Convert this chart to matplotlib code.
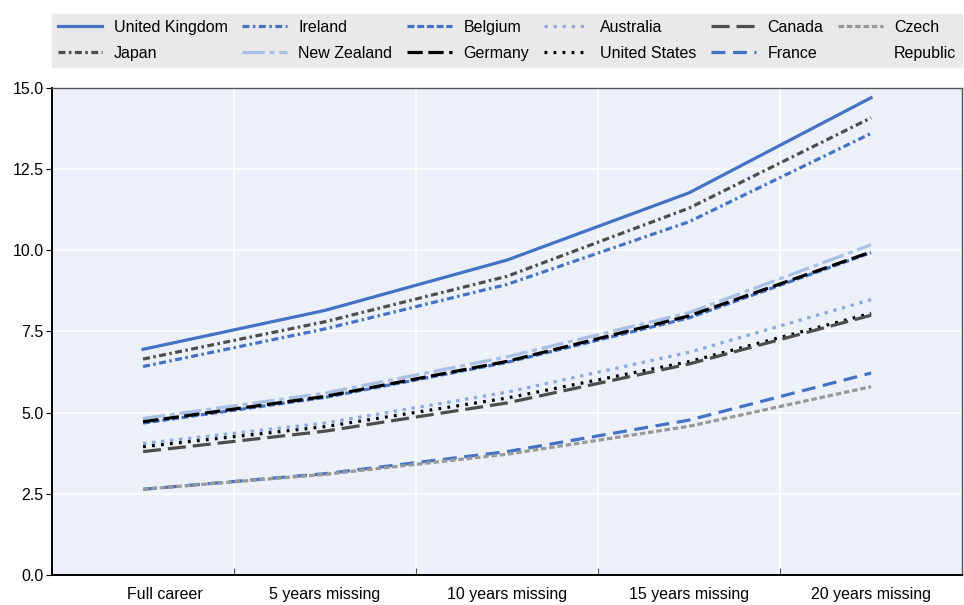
import matplotlib
matplotlib.use("Agg")
import matplotlib.pyplot as plt
from matplotlib.lines import Line2D

# ----------------------------
# Data
# ----------------------------

categories = ["Full career", "5 years missing", "10 years missing",
              "15 years missing", "20 years missing"]

united_kingdom = [6.95, 8.15, 9.7, 11.77, 14.7]
japan = [6.65, 7.8, 9.2, 11.3, 14.08]
ireland = [6.42, 7.58, 8.95, 10.88, 13.6]
new_zealand = [4.82, 5.6, 6.72, 8.08, 10.17]
belgium = [4.68, 5.47, 6.55, 7.92, 9.93]
germany = [4.72, 5.5, 6.58, 7.98, 9.95]
australia = [4.05, 4.68, 5.63, 6.86, 8.48]
united_states = [3.95, 4.57, 5.45, 6.57, 8.06]
canada = [3.8, 4.43, 5.3, 6.5, 8.0]
france = [2.64, 3.12, 3.8, 4.77, 6.22]
czech_republic = [2.64, 3.1, 3.72, 4.58, 5.8]

yticks = [0.0, 2.5, 5.0, 7.5, 10.0, 12.5, 15.0]

# ----------------------------
# Style
# ----------------------------

plt.rcParams["font.family"] = ["Liberation Sans", "DejaVu Sans"]
plt.rcParams["font.size"] = 11.5
plt.rcParams["lines.scale_dashes"] = False

blue = "#4472c4"
light_blue = "#8eaadc"
pale_blue = "#a9bfe3"
dark_grey = "#4d4d4d"
grey = "#999999"

# (label, values, color, dashes) in legend column order
series = [
    ("United Kingdom", united_kingdom, blue, None),
    ("Japan", japan, dark_grey, (5, 2.5, 1.8, 2.5)),
    ("Ireland", ireland, blue, (5, 2.5, 1.8, 2.5)),
    ("New Zealand", new_zealand, pale_blue, (16, 3.5, 3.5, 3.5)),
    ("Belgium", belgium, blue, (5, 2)),
    ("Germany", germany, "black", (11, 4)),
    ("Australia", australia, light_blue, (2.5, 4)),
    ("United States", united_states, "black", (2, 4.5)),
    ("Canada", canada, dark_grey, (13, 5)),
    ("France", france, blue, (10, 5.5)),
    ("Czech", czech_republic, grey, (4, 2)),
]

# ----------------------------
# Plot
# ----------------------------

fig = plt.figure(figsize=(9.64, 6.05), dpi=100)
ax = fig.add_axes([0.054, 0.0496, 0.944, 0.805])
ax.set_facecolor("#ecf0f8")

x = list(range(len(categories)))
handles = []
for label, values, color, dashes in series:
    line, = ax.plot(x, values, color=color, lw=2.3, label=label)
    if dashes is not None:
        line.set_dashes(dashes)
    handles.append(line)

# second line of the "Czech Republic" label
handles.append(Line2D([], [], color="none", label="Republic"))

ax.set_xlim(-0.5, len(categories) - 0.5)
ax.set_ylim(0, 15)
ax.set_yticks(yticks)
ax.set_yticklabels([f"{v:.1f}" for v in yticks])

ax.set_xticks([i + 0.5 for i in range(len(categories) - 1)])
ax.set_xticklabels([])
ax.set_xticks([0.12] + x[1:], minor=True)
ax.set_xticklabels(categories, minor=True)
ax.tick_params(axis="x", which="minor", length=0, pad=9)
ax.tick_params(axis="x", which="major", direction="in", length=5, color="#555555")
ax.tick_params(axis="y", length=4, pad=2)

ax.grid(True, color="white", lw=1.2)
ax.set_axisbelow(True)

for side in ["left", "bottom"]:
    ax.spines[side].set_color("black")
    ax.spines[side].set_linewidth(1.4)
for side in ["top", "right"]:
    ax.spines[side].set_color("#555555")
    ax.spines[side].set_linewidth(1.0)

leg = fig.legend(
    handles=handles,
    loc="lower left",
    bbox_to_anchor=(0.054, 0.89, 0.944, 0.093),
    mode="expand",
    ncol=6,
    frameon=True,
    fancybox=False,
    handlelength=2.8,
    handletextpad=0.7,
    columnspacing=1.0,
    labelspacing=0.7,
    borderaxespad=0,
    borderpad=0.35,
    fontsize=11.5,
)
leg.get_frame().set_facecolor("#e9e9e9")
leg.get_frame().set_edgecolor("#e9e9e9")
leg.get_frame().set_alpha(1)

fig.savefig("out.png", dpi=100)
